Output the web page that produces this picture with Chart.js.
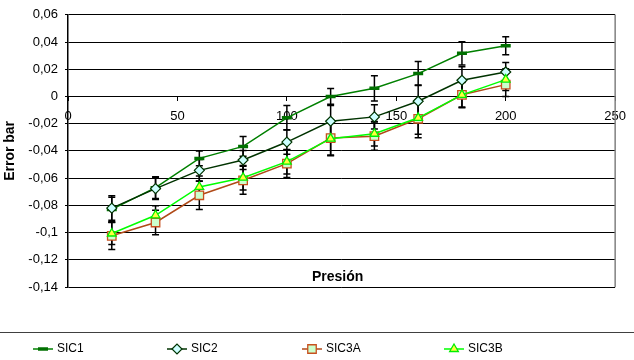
<!DOCTYPE html>
<html>
<head>
<meta charset="utf-8">
<script src="https://cdn.jsdelivr.net/npm/chart.js@4/dist/chart.umd.min.js"></script>
<style>
  html, body { margin: 0; padding: 0; background: #fff; }
  #wrap { width: 634px; height: 360px; }
</style>
</head>
<body>
<div id="wrap"><canvas id="c" width="634" height="360"></canvas></div>
<script>
// ---- data ----
const pressure = [20, 40, 60, 80, 100, 120, 140, 160, 180, 200];
const sic1  = [-0.083, -0.067, -0.0455, -0.0367, -0.0157, 0.0000, 0.0060, 0.0168, 0.0317, 0.0373];
const sic2  = [-0.082, -0.0677, -0.0543, -0.0467, -0.0335, -0.0182, -0.0150, -0.0035, 0.0119, 0.0180];
const sic3a = [-0.1024, -0.0926, -0.0726, -0.0616, -0.0494, -0.0306, -0.0292, -0.0164, 0.0012, 0.0087];
const sic3b = [-0.1007, -0.0873, -0.0665, -0.0597, -0.0479, -0.0310, -0.0274, -0.0157, 0.0012, 0.0124];
const err1  = [0.009, 0.008, 0.0055, 0.0073, 0.009, 0.0058, 0.0093, 0.0088, 0.0085, 0.0066];
const err2  = [0.009, 0.008, 0.008, 0.007, 0.009, 0.0115, 0.009, 0.012, 0.010, 0.007];
const err3a = [0.010, 0.009, 0.0105, 0.0103, 0.0102, 0.013, 0.0104, 0.014, 0.0095, 0.0087];
const err3b = [0.008, 0.007, 0.008, 0.009, 0.009, 0.012, 0.009, 0.012, 0.009, 0.008];
const seriesNames = ['SIC1', 'SIC2', 'SIC3A', 'SIC3B'];
const xTitle = 'Presión';
const yTitle = 'Error bar';

const FONT = 'Arial, "Liberation Sans", sans-serif';
const toPts = (ys) => ys.map((v, i) => ({x: pressure[i], y: v}));

const datasets = [
  {label: seriesNames[0], data: toPts(sic1), errors: err1, borderColor: '#008000', borderWidth: 1.5,
   pointStyle: 'line', pointRadius: 5, pointBorderWidth: 3.5, pointBorderColor: '#007000', pointBackgroundColor: '#007000', order: 4},
  {label: seriesNames[1], data: toPts(sic2), errors: err2, borderColor: '#003300', borderWidth: 1.5,
   pointStyle: 'rectRot', pointRadius: 5, pointBorderWidth: 1.2, pointBorderColor: '#003300', pointBackgroundColor: '#CCFFFF', order: 3},
  {label: seriesNames[2], data: toPts(sic3a), errors: err3a, borderColor: '#B04A18', borderWidth: 1.5,
   pointStyle: 'rect', pointRadius: 6, pointBorderWidth: 1.3, pointBorderColor: '#C8501E', pointBackgroundColor: '#CCFFCC', order: 2},
  {label: seriesNames[3], data: toPts(sic3b), errors: err3b, borderColor: '#00FF00', borderWidth: 1.5,
   pointStyle: 'triangle', pointRadius: 5, pointBorderWidth: 1.3, pointBorderColor: '#00EE00', pointBackgroundColor: '#FFFF40', order: 1}
];
datasets.forEach(d => { d.fill = false; d.tension = 0; d.showLine = true; });

const errorBars = {
  id: 'errorBars',
  beforeDatasetsDraw(chart) {
    const ctx = chart.ctx, xs = chart.scales.x, ys = chart.scales.y;
    ctx.save();
    ctx.strokeStyle = '#000';
    ctx.lineWidth = 1.5;
    chart.data.datasets.forEach(ds => {
      ds.data.forEach((p, i) => {
        const e = ds.errors[i];
        const px = xs.getPixelForValue(p.x);
        const y1 = ys.getPixelForValue(p.y + e);
        const y2 = ys.getPixelForValue(p.y - e);
        ctx.beginPath();
        ctx.moveTo(px, y1); ctx.lineTo(px, y2);
        ctx.moveTo(px - 3.5, y1); ctx.lineTo(px + 3.5, y1);
        ctx.moveTo(px - 3.5, y2); ctx.lineTo(px + 3.5, y2);
        ctx.stroke();
      });
    });
    ctx.restore();
  }
};

const frameAndLegend = {
  id: 'frameAndLegend',
  afterDraw(chart) {
    const ctx = chart.ctx, a = chart.chartArea;
    ctx.save();
    // right frame of plot area
    ctx.strokeStyle = '#808080';
    ctx.lineWidth = 1.5;
    ctx.beginPath();
    ctx.moveTo(a.right, a.top); ctx.lineTo(a.right, a.bottom);
    ctx.stroke();
    // x axis title inside plot bottom
    ctx.fillStyle = '#000';
    ctx.font = 'bold 14px ' + FONT;
    ctx.textAlign = 'center';
    ctx.textBaseline = 'middle';
    ctx.fillText(xTitle, (a.left + a.right) / 2 - 4, a.bottom - 10);
    // legend separator
    ctx.strokeStyle = '#404040';
    ctx.lineWidth = 1;
    ctx.beginPath();
    ctx.moveTo(0, 332.5); ctx.lineTo(chart.width, 332.5);
    ctx.stroke();
    // legend items
    const starts = [33, 167, 302, 444];
    const ly = 349;
    ctx.font = '12px ' + FONT;
    ctx.textAlign = 'left';
    chart.data.datasets.forEach((ds, i) => {
      const x0 = starts[i];
      ctx.strokeStyle = ds.borderColor;
      ctx.lineWidth = 1.5;
      ctx.beginPath();
      ctx.moveTo(x0, ly); ctx.lineTo(x0 + 20, ly);
      ctx.stroke();
      ctx.fillStyle = ds.pointBackgroundColor;
      ctx.strokeStyle = ds.pointBorderColor;
      ctx.lineWidth = ds.pointBorderWidth;
      Chart.helpers.drawPoint(ctx, {pointStyle: ds.pointStyle, radius: ds.pointRadius, rotation: 0, borderWidth: ds.pointBorderWidth}, x0 + 10, ly);
      ctx.fillStyle = '#000';
      ctx.fillText(ds.label, x0 + 24, ly);
    });
    ctx.restore();
  }
};

new Chart(document.getElementById('c'), {
  type: 'line',
  data: {datasets},
  options: {
    responsive: false,
    animation: false,
    layout: {padding: {left: 0, top: 14, right: 13, bottom: 73}},
    plugins: {legend: {display: false}, tooltip: {enabled: false}},
    scales: {
      x: {
        type: 'linear', position: {y: 0}, min: 0, max: 250,
        ticks: {stepSize: 50, color: '#000', font: {size: 13, family: FONT}, padding: 8, maxRotation: 0},
        grid: {drawOnChartArea: false, drawTicks: true, tickLength: 4, color: '#000'},
        border: {display: true, color: '#000', width: 1}
      },
      y: {
        min: -0.14, max: 0.06,
        ticks: {stepSize: 0.02, color: '#000', font: {size: 13, family: FONT}, padding: 7,
          callback: (v) => String(Number(v.toFixed(2))).replace('.', ',')},
        grid: {color: '#000', lineWidth: 1, tickLength: 3},
        border: {display: true, color: '#000', width: 1.5},
        title: {display: true, text: yTitle, color: '#000', font: {size: 14, weight: 'bold', family: FONT}, padding: {top: 2, bottom: 0}},
        afterFit(s) { s.width = 68; }
      }
    }
  },
  plugins: [errorBars, frameAndLegend]
});
</script>
</body>
</html>
